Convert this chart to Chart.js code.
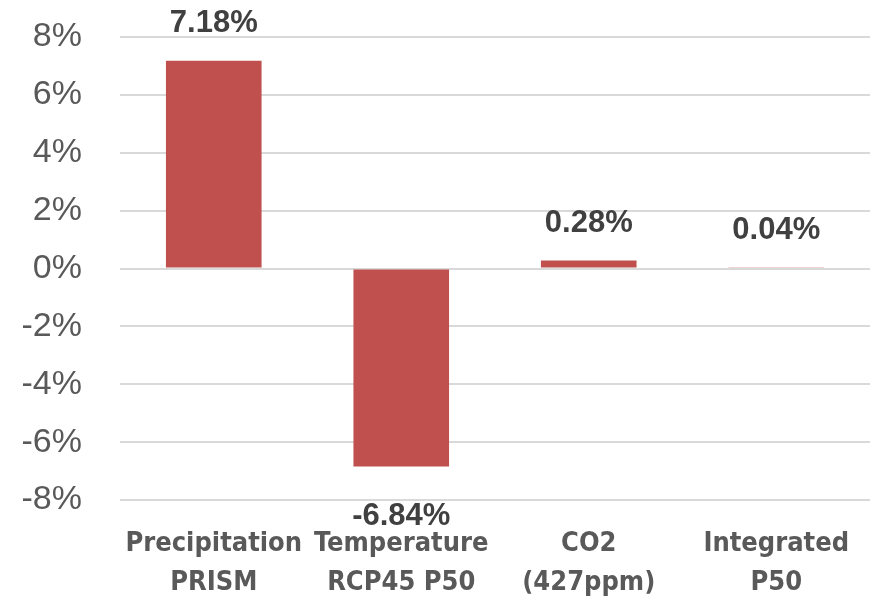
<!DOCTYPE html>
<html>
<head>
<meta charset="utf-8">
<script src="https://cdn.jsdelivr.net/npm/chart.js@4/dist/chart.umd.min.js"></script>
<style>
  html, body { margin: 0; padding: 0; background: #ffffff; }
  #wrap { width: 875px; height: 607px; position: relative; }
</style>
</head>
<body>
<div id="wrap"><canvas id="c"></canvas></div>
<script>
// Change in yield by driver (percent)
const categories = [
  ["Precipitation", "PRISM"],
  ["Temperature", "RCP45 P50"],
  ["CO2", "(427ppm)"],
  ["Integrated", "P50"]
];
const changePct = [7.18, -6.84, 0.28, 0.04];
const yTicks = [-8, -6, -4, -2, 0, 2, 4, 6, 8];

// Writes each bar's value beyond its end (above positives, below negatives)
const valueLabels = {
  id: 'valueLabels',
  afterDatasetsDraw(chart) {
    const ctx = chart.ctx;
    const meta = chart.getDatasetMeta(0);
    const data = chart.data.datasets[0].data;
    ctx.save();
    ctx.font = 'bold 31px "Liberation Sans", Arial, sans-serif';
    ctx.fillStyle = '#404040';
    ctx.textAlign = 'center';
    ctx.textBaseline = 'middle';
    meta.data.forEach((bar, i) => {
      const v = data[i];
      const y = v >= 0 ? Math.min(bar.y, bar.base) - 37 : Math.max(bar.y, bar.base) + 50;
      ctx.fillText(v.toFixed(2) + '%', bar.x, y);
    });
    ctx.restore();
  }
};

new Chart(document.getElementById('c'), {
  type: 'bar',
  data: {
    labels: categories,
    datasets: [{
      data: changePct,
      backgroundColor: '#C0504D',
      borderWidth: 0,
      barPercentage: 1,
      categoryPercentage: 0.51
    }]
  },
  options: {
    responsive: true,
    maintainAspectRatio: false,
    animation: false,
    layout: { padding: { top: 37, right: 5, left: 20, bottom: 0 } },
    plugins: { legend: { display: false }, tooltip: { enabled: false } },
    scales: {
      x: {
        grid: { display: false, drawTicks: false },
        border: { display: false },
        afterFit(scale) { scale.height = 107; scale.paddingLeft = 0; scale.paddingRight = 0; },
        ticks: {
          color: '#595959',
          font: { family: '"DejaVu Sans Condensed", "Open Sans", sans-serif', size: 27, weight: 'bold', lineHeight: 1.45 },
          padding: 24,
          maxRotation: 0,
          autoSkip: false
        }
      },
      y: {
        min: -8,
        max: 8,
        afterBuildTicks(axis) { axis.ticks = yTicks.map(v => ({ value: v })); },
        afterFit(scale) { scale.width = 100; scale.paddingTop = 0; scale.paddingBottom = 0; },
        grid: { color: '#d9d9d9', lineWidth: 2, drawTicks: false },
        border: { display: false },
        ticks: {
          color: '#595959',
          font: { family: '"Liberation Sans", Arial, sans-serif', size: 34 },
          padding: 38,
          callback: v => v + '%'
        }
      }
    }
  },
  plugins: [valueLabels]
});
</script>
</body>
</html>
